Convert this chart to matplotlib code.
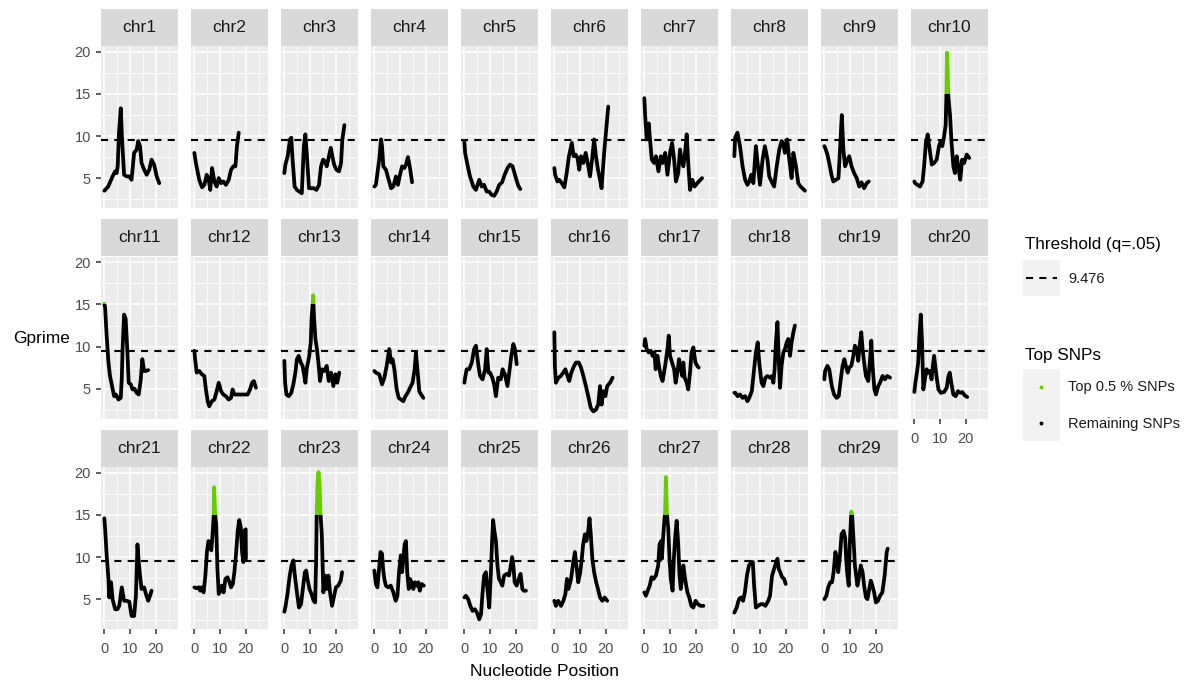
import matplotlib.pyplot as plt
from matplotlib.patches import Rectangle

plt.rcParams['font.family'] = ['Liberation Sans', 'DejaVu Sans']

# Gprime per chromosome (position in Mb)
chr1_pos = [0, 1.5, 3.2, 4.2, 4.8, 5.2, 5.7, 6.4, 6.9, 7.7, 8.7, 9.7, 10.6, 11.6, 12.6, 13.2, 13.9, 14.5, 15.5, 16.5, 17.5, 18.4, 19.4, 20.4, 21.4]
chr1_g = [3.5, 4.0, 5.2, 5.8, 5.6, 6.4, 10.4, 13.3, 9.6, 5.4, 5.2, 5.2, 4.8, 8.0, 8.4, 9.4, 8.8, 6.8, 6.0, 5.4, 6.0, 7.2, 6.6, 5.2, 4.4]
chr2_pos = [0, 0.6, 1.9, 3.0, 3.9, 4.8, 5.6, 6.2, 6.9, 7.8, 8.7, 9.5, 10.4, 11.3, 12.3, 13.4, 14.3, 15.2, 16.0, 16.6, 17.3]
chr2_g = [8.0, 6.8, 4.8, 3.9, 4.2, 5.4, 4.8, 3.6, 6.2, 4.6, 4.0, 5.0, 4.4, 4.6, 4.2, 4.8, 6.0, 6.4, 6.4, 8.8, 10.4]
chr3_pos = [0, 0.4, 1.3, 2.2, 2.7, 3.2, 4.0, 4.9, 5.8, 6.8, 7.6, 8.2, 8.8, 9.6, 10.6, 11.5, 12.5, 13.5, 14.3, 15.1, 15.8, 16.5, 17.1, 18.1, 18.7, 19.4, 20.3, 21.3, 22.1, 22.6, 23.4]
chr3_g = [5.6, 6.6, 7.6, 9.6, 9.8, 7.2, 4.0, 3.6, 3.4, 3.2, 8.8, 10.2, 7.6, 3.8, 3.8, 3.8, 3.6, 4.2, 6.4, 7.2, 7.0, 6.4, 7.2, 8.6, 7.6, 6.6, 6.0, 5.8, 6.8, 9.6, 11.3]
chr4_pos = [0, 0.6, 1.9, 2.6, 3.0, 3.5, 4.5, 5.6, 6.5, 7.4, 8.4, 9.2, 10.0, 10.8, 11.7, 12.3, 13.1, 13.9, 14.7]
chr4_g = [4.0, 4.2, 7.2, 9.6, 8.8, 6.4, 6.0, 4.8, 3.8, 4.0, 5.2, 4.2, 5.4, 6.4, 6.2, 6.6, 7.5, 6.2, 4.5]
chr5_pos = [0, 0.3, 1.2, 2.2, 3.5, 4.5, 5.8, 6.8, 7.7, 8.7, 9.7, 10.6, 11.6, 12.6, 13.6, 14.7, 15.7, 16.8, 17.8, 18.8, 19.9, 21.0, 21.8]
chr5_g = [9.4, 8.0, 6.6, 5.2, 4.0, 3.6, 4.8, 4.0, 4.2, 3.4, 3.4, 3.0, 2.9, 3.4, 4.2, 4.5, 5.4, 6.2, 6.6, 6.4, 5.2, 4.1, 3.7]
chr6_pos = [0, 0.3, 1.2, 1.9, 2.9, 3.9, 4.8, 5.7, 6.8, 7.5, 8.3, 9.0, 9.7, 10.4, 11.3, 12.2, 13.0, 13.9, 14.7, 15.5, 16.2, 17.0, 17.8, 18.4, 19.4, 20.1, 21.0]
chr6_g = [6.2, 5.4, 4.6, 4.8, 4.4, 3.9, 5.6, 7.6, 9.2, 7.6, 7.8, 7.4, 6.0, 7.6, 6.8, 8.0, 6.8, 5.2, 7.2, 9.6, 7.6, 6.0, 4.8, 3.8, 8.0, 10.4, 13.5]
chr7_pos = [0, 0.3, 0.9, 1.7, 2.2, 2.9, 3.8, 4.5, 5.5, 6.4, 7.1, 8.1, 9.0, 10.0, 10.8, 11.6, 12.3, 13.2, 13.9, 14.5, 15.2, 15.8, 16.5, 17.1, 17.8, 18.7, 19.6, 20.6, 22.5]
chr7_g = [14.5, 12.5, 9.6, 11.5, 9.6, 7.2, 6.8, 7.6, 5.8, 7.6, 6.8, 8.0, 5.4, 8.0, 9.2, 7.2, 4.6, 5.6, 8.4, 7.2, 6.4, 7.8, 10.2, 6.8, 3.6, 4.8, 4.0, 4.4, 5.0]
chr8_pos = [0, 0.3, 1.2, 2.2, 3.2, 4.2, 5.1, 5.8, 6.6, 7.4, 8.4, 9.2, 10.0, 11.0, 11.9, 12.9, 13.6, 14.5, 15.5, 16.5, 17.5, 18.4, 19.0, 19.7, 20.6, 21.4, 22.3, 23.0, 24.0, 24.9, 25.8, 27.5]
chr8_g = [7.6, 9.8, 10.4, 8.8, 6.4, 4.8, 4.2, 4.6, 5.4, 4.4, 8.8, 6.4, 4.2, 7.2, 8.8, 7.2, 5.2, 4.6, 4.0, 6.4, 8.4, 9.4, 9.2, 8.0, 9.6, 7.2, 5.0, 8.0, 6.4, 4.4, 4.0, 3.5]
chr9_pos = [0, 0.3, 1.2, 1.9, 2.9, 3.5, 4.5, 5.5, 6.1, 6.8, 7.4, 8.1, 9.0, 9.7, 10.6, 11.6, 12.6, 13.6, 14.5, 15.5, 16.5, 17.3]
chr9_g = [8.8, 8.6, 7.8, 6.8, 5.2, 4.6, 4.8, 5.0, 8.4, 12.5, 8.4, 6.4, 7.2, 7.6, 6.4, 5.6, 5.0, 4.0, 4.5, 3.8, 4.4, 4.6]
chr10_pos = [0, 0.3, 1.2, 2.2, 3.2, 3.8, 4.5, 5.2, 5.8, 6.8, 7.7, 8.7, 9.6, 10.3, 10.9, 11.6, 12.2, 12.5, 12.7, 13.0, 13.2, 13.9, 14.5, 15.2, 15.8, 16.5, 17.1, 17.9, 18.6, 19.4, 20.4, 21.4]
chr10_g = [4.6, 4.4, 4.2, 4.0, 4.6, 6.4, 9.2, 10.2, 8.8, 6.6, 6.8, 7.2, 8.8, 9.4, 8.8, 10.0, 11.3, 15.1, 19.9, 18.0, 14.9, 12.5, 9.2, 6.4, 5.6, 7.6, 6.4, 4.8, 7.2, 6.8, 7.8, 7.4]
chr11_pos = [0, 0.3, 0.9, 1.6, 2.2, 3.0, 3.8, 4.5, 5.5, 6.4, 6.8, 7.1, 7.7, 8.3, 9.0, 9.5, 10.3, 11.0, 11.7, 12.6, 13.4, 14.2, 14.8, 15.5, 16.2, 17.1]
chr11_g = [15.1, 14.6, 11.3, 8.1, 6.5, 5.3, 4.1, 4.3, 3.7, 3.9, 6.3, 9.7, 13.8, 13.3, 9.3, 5.7, 5.5, 4.9, 5.0, 4.5, 4.3, 6.1, 8.5, 7.1, 7.1, 7.2]
chr12_pos = [0, 0.3, 0.9, 1.9, 2.9, 3.9, 4.5, 5.2, 5.8, 6.8, 7.8, 8.7, 9.5, 10.4, 11.3, 12.3, 13.4, 14.3, 14.9, 15.6, 16.5, 17.5, 18.8, 20.8, 21.7, 22.5, 23.2, 24.0]
chr12_g = [9.5, 8.5, 6.9, 7.1, 6.7, 6.5, 4.9, 3.5, 2.9, 3.5, 3.7, 4.7, 5.7, 4.7, 4.3, 4.1, 3.7, 3.9, 4.9, 4.3, 4.3, 4.3, 4.3, 4.3, 4.9, 5.7, 5.9, 5.1]
chr13_pos = [0, 0.3, 0.8, 1.7, 2.7, 3.5, 4.3, 4.9, 5.6, 6.4, 7.1, 7.7, 8.2, 8.7, 9.2, 9.7, 10.3, 10.6, 11.0, 11.2, 11.6, 12.1, 12.7, 13.4, 13.9, 14.7, 15.6, 16.5, 17.3, 18.2, 19.1, 19.9, 20.6, 21.4]
chr13_g = [8.3, 5.7, 4.3, 4.1, 4.5, 5.5, 6.9, 8.5, 8.9, 8.1, 7.7, 6.7, 5.7, 7.3, 8.1, 8.9, 10.5, 13.3, 15.0, 16.1, 13.3, 10.9, 9.7, 7.7, 5.9, 7.3, 7.1, 7.7, 5.9, 6.9, 5.3, 6.7, 5.7, 6.9]
chr14_pos = [0, 0.6, 1.9, 3.0, 3.9, 4.8, 5.8, 6.5, 7.1, 7.8, 8.7, 9.5, 10.4, 11.3, 12.1, 13.0, 13.9, 14.9, 15.7, 16.2, 16.9, 17.5, 18.2, 19.1]
chr14_g = [7.1, 6.9, 6.7, 5.5, 6.3, 7.7, 9.7, 8.1, 8.5, 7.3, 4.9, 3.9, 3.7, 3.5, 4.1, 4.5, 5.1, 5.7, 7.3, 9.3, 6.9, 4.7, 4.3, 3.9]
chr15_pos = [0, 0.3, 0.9, 1.9, 2.9, 3.8, 4.5, 5.5, 6.1, 7.1, 8.1, 8.7, 9.4, 10.0, 10.9, 11.6, 12.3, 13.2, 14.2, 14.9, 15.8, 16.8, 17.5, 18.3, 19.1, 19.7, 20.4]
chr15_g = [5.7, 6.3, 7.3, 7.3, 8.1, 9.7, 10.1, 7.7, 6.5, 6.1, 7.3, 9.7, 6.9, 6.9, 6.3, 5.5, 4.1, 6.3, 6.1, 7.3, 6.7, 5.3, 6.9, 8.9, 10.3, 9.7, 7.9]
chr16_pos = [0, 0.2, 0.6, 1.6, 2.5, 3.5, 4.3, 5.1, 5.8, 6.6, 7.4, 8.4, 9.5, 10.4, 11.3, 12.3, 13.2, 14.2, 15.2, 16.2, 17.1, 17.8, 18.4, 19.1, 19.9, 20.6, 21.7, 22.7]
chr16_g = [11.7, 7.7, 5.7, 6.3, 6.5, 6.9, 7.3, 6.5, 5.9, 6.9, 7.5, 8.1, 8.1, 7.5, 6.5, 5.3, 4.1, 2.7, 2.3, 2.5, 3.1, 5.3, 3.1, 4.7, 4.1, 5.3, 5.7, 6.3]
chr17_pos = [0, 0.3, 0.9, 1.7, 2.5, 3.2, 3.9, 4.4, 5.1, 5.7, 6.4, 7.1, 8.1, 9.0, 9.5, 10.0, 10.8, 11.6, 12.2, 12.9, 13.5, 14.3, 14.8, 15.2, 15.7, 16.5, 17.1, 17.8, 18.4, 19.1, 19.9, 20.6, 21.2]
chr17_g = [10.1, 10.9, 9.7, 9.3, 9.5, 8.9, 9.3, 7.3, 8.9, 7.7, 6.5, 5.9, 7.7, 9.7, 11.3, 8.9, 8.1, 7.3, 5.7, 6.9, 8.5, 7.3, 6.5, 8.1, 6.3, 5.7, 4.9, 6.9, 9.3, 9.9, 8.1, 7.7, 7.5]
chr18_pos = [0, 0.4, 1.3, 2.2, 3.2, 4.2, 5.1, 5.8, 6.8, 7.7, 8.4, 9.1, 9.7, 10.6, 11.3, 12.1, 12.9, 13.9, 14.7, 15.2, 15.7, 16.2, 16.8, 17.3, 17.8, 18.4, 19.1, 19.7, 20.4, 21.0, 21.7, 22.3, 23.0, 23.6]
chr18_g = [4.5, 4.5, 4.1, 4.3, 3.9, 4.1, 3.5, 3.9, 4.7, 7.3, 9.3, 10.5, 8.1, 5.7, 5.3, 6.3, 6.5, 6.3, 6.5, 5.7, 7.3, 10.5, 12.9, 8.5, 5.1, 7.7, 9.3, 9.7, 10.5, 10.9, 8.9, 10.5, 11.7, 12.5]
chr19_pos = [0, 0.3, 1.2, 1.9, 2.9, 3.8, 4.8, 5.6, 6.4, 7.1, 7.8, 8.4, 9.1, 9.7, 10.5, 11.3, 11.9, 12.6, 13.2, 13.9, 14.4, 14.9, 15.5, 16.2, 17.1, 17.8, 18.3, 18.8, 19.5, 20.1, 21.0, 21.7, 22.7, 23.6, 24.5, 25.6]
chr19_g = [6.1, 7.1, 7.7, 7.3, 5.3, 4.3, 3.9, 4.1, 6.1, 7.7, 8.5, 7.7, 6.9, 7.5, 7.7, 8.9, 10.1, 9.7, 8.3, 10.5, 11.7, 9.7, 8.1, 6.5, 5.9, 8.5, 10.7, 7.7, 4.9, 4.3, 5.3, 5.7, 6.5, 6.1, 6.5, 6.3]
chr20_pos = [0, 0.4, 1.0, 1.5, 1.9, 2.5, 3.0, 3.5, 4.1, 4.8, 5.4, 6.1, 6.7, 7.2, 7.7, 8.3, 8.8, 9.4, 10.3, 11.6, 12.6, 13.3, 13.8, 14.5, 15.2, 16.1, 17.0, 17.8, 18.7, 19.6, 20.6]
chr20_g = [4.6, 5.7, 6.9, 8.1, 10.9, 13.8, 10.5, 4.9, 6.1, 7.3, 6.9, 7.1, 6.1, 7.7, 8.9, 7.3, 6.1, 4.9, 4.5, 4.6, 5.1, 6.5, 6.9, 5.5, 4.3, 4.1, 4.7, 4.5, 4.6, 4.2, 4.0]
chr21_pos = [0, 0.3, 0.9, 1.6, 1.9, 2.6, 3.2, 4.2, 5.1, 5.8, 6.8, 7.7, 8.7, 9.7, 10.6, 11.6, 12.3, 12.9, 13.4, 13.9, 14.5, 15.5, 16.2, 17.1, 17.8, 18.4]
chr21_g = [14.6, 13.4, 10.2, 7.4, 5.2, 7.0, 5.0, 3.8, 3.8, 4.2, 6.4, 4.8, 4.8, 4.7, 3.0, 3.0, 5.4, 11.5, 9.4, 7.8, 6.2, 6.4, 5.6, 4.8, 5.4, 6.0]
chr22_pos = [0, 0.8, 1.7, 2.3, 2.8, 3.6, 4.3, 4.9, 5.5, 6.2, 6.6, 7.1, 7.5, 7.7, 8.1, 8.5, 9.0, 9.5, 10.1, 10.7, 11.4, 12.1, 12.9, 13.7, 14.3, 15.0, 15.6, 16.3, 16.9, 17.5, 18.1, 18.6, 19.1, 19.5, 20.0, 20.1]
chr22_g = [6.4, 6.3, 6.4, 6.0, 6.4, 5.8, 7.8, 10.6, 11.9, 11.5, 10.8, 12.7, 14.7, 18.3, 15.1, 13.9, 8.6, 5.6, 6.0, 6.6, 5.8, 7.4, 7.6, 7.0, 6.4, 6.8, 8.2, 10.6, 13.1, 14.4, 13.5, 10.6, 9.4, 13.1, 13.3, 9.8]
chr23_pos = [0, 0.5, 1.3, 2.1, 2.8, 3.5, 4.1, 4.9, 5.7, 6.5, 7.2, 8.0, 8.5, 9.0, 9.8, 10.6, 11.4, 12.0, 12.4, 12.6, 12.9, 13.3, 13.7, 14.1, 14.6, 15.2, 15.9, 16.5, 17.2, 17.8, 18.6, 19.4, 20.1, 21.0, 22.0, 22.5]
chr23_g = [3.5, 4.2, 5.8, 7.8, 9.0, 9.6, 7.8, 5.8, 4.0, 4.4, 6.2, 8.2, 8.4, 7.4, 6.2, 5.6, 4.8, 4.6, 9.8, 15.1, 18.7, 20.1, 18.7, 15.1, 12.7, 5.8, 7.8, 6.2, 7.8, 5.8, 4.2, 5.4, 6.4, 6.6, 7.2, 8.2]
chr24_pos = [0, 0.6, 1.2, 1.9, 2.4, 3.0, 3.4, 3.9, 4.5, 5.4, 6.4, 7.4, 8.3, 9.0, 9.6, 10.3, 10.8, 11.3, 11.8, 12.3, 12.8, 13.4, 13.9, 14.5, 15.2, 15.8, 16.5, 17.1, 17.7, 18.4, 19.3]
chr24_g = [8.4, 6.8, 6.4, 8.8, 10.6, 10.4, 8.6, 7.4, 6.6, 6.4, 6.6, 5.8, 4.8, 5.4, 8.2, 10.2, 8.2, 9.8, 11.5, 11.9, 8.2, 6.2, 7.4, 7.0, 6.2, 7.0, 6.6, 7.0, 6.0, 6.8, 6.6]
chr25_pos = [0, 0.6, 1.5, 2.3, 3.2, 4.1, 4.9, 5.8, 6.5, 7.1, 7.7, 8.4, 9.0, 9.7, 10.3, 10.8, 11.2, 11.7, 12.3, 12.9, 13.5, 14.2, 14.8, 15.5, 16.5, 17.4, 18.1, 18.6, 19.1, 19.6, 20.4, 21.2, 21.9, 22.6, 23.2, 24.0]
chr25_g = [5.2, 5.4, 5.0, 4.2, 3.6, 3.8, 3.4, 2.6, 3.2, 5.8, 7.8, 8.2, 6.2, 4.0, 7.8, 11.9, 14.4, 13.1, 11.9, 9.0, 7.4, 7.0, 6.6, 7.8, 8.0, 7.8, 9.0, 10.0, 9.0, 7.0, 6.6, 7.4, 8.0, 6.2, 6.0, 6.0]
chr26_pos = [0, 0.6, 1.5, 2.6, 3.5, 4.3, 4.9, 5.5, 6.5, 7.2, 8.0, 8.6, 9.3, 10.1, 10.7, 11.2, 11.9, 12.5, 13.2, 13.7, 14.2, 14.8, 15.5, 16.3, 17.0, 17.8, 18.7, 19.6, 20.6]
chr26_g = [4.8, 4.2, 4.8, 4.2, 4.8, 5.6, 7.4, 6.2, 7.4, 9.0, 10.6, 9.0, 7.0, 8.2, 9.8, 11.5, 12.7, 11.9, 13.1, 14.6, 12.7, 9.8, 8.2, 7.0, 6.2, 5.2, 4.8, 5.2, 4.8]
chr27_pos = [0, 0.6, 1.3, 2.1, 2.8, 3.6, 4.5, 5.4, 5.9, 6.5, 6.8, 7.4, 7.9, 8.1, 8.4, 8.8, 9.3, 9.8, 10.3, 11.0, 11.5, 12.0, 12.6, 13.2, 13.7, 14.2, 14.7, 15.2, 15.7, 16.3, 16.8, 17.5, 18.3, 19.1, 20.0, 20.9, 21.9, 23.0]
chr27_g = [5.8, 5.4, 6.0, 6.6, 7.6, 7.4, 7.8, 9.0, 11.5, 11.9, 9.8, 12.7, 14.7, 15.5, 19.5, 15.1, 13.5, 9.8, 7.4, 6.0, 9.8, 12.3, 14.3, 11.5, 7.8, 6.2, 7.4, 9.0, 7.8, 6.6, 5.8, 5.2, 4.2, 4.0, 4.8, 4.4, 4.2, 4.2]
chr28_pos = [0, 0.9, 1.8, 2.6, 3.4, 4.1, 4.9, 5.7, 6.5, 7.2, 7.7, 8.4, 9.3, 10.3, 11.2, 12.1, 13.2, 13.9, 14.7, 15.5, 16.3, 16.8, 17.3, 17.9, 18.6, 19.4, 20.0]
chr28_g = [3.4, 4.0, 5.0, 5.2, 4.8, 5.8, 7.8, 9.0, 9.4, 9.4, 6.6, 4.0, 4.2, 4.4, 4.4, 4.2, 4.8, 5.4, 7.8, 8.6, 9.4, 9.8, 8.6, 8.2, 7.6, 7.4, 6.8]
chr29_pos = [0, 0.8, 1.5, 2.3, 3.0, 3.6, 4.3, 4.9, 5.4, 6.1, 6.7, 7.5, 8.1, 8.5, 9.0, 9.5, 9.9, 10.5, 10.8, 11.4, 11.9, 12.4, 12.9, 13.6, 14.2, 14.9, 15.5, 16.2, 16.8, 17.5, 18.1, 18.7, 19.4, 20.1, 20.9, 21.7, 22.6, 23.5, 24.3, 24.7]
chr29_g = [5.0, 5.4, 6.4, 7.0, 7.0, 8.2, 10.6, 9.8, 8.2, 10.2, 12.7, 13.1, 12.3, 9.8, 7.8, 6.6, 11.5, 15.4, 15.1, 11.9, 9.0, 7.8, 6.6, 7.8, 9.0, 8.2, 6.6, 5.2, 5.0, 6.2, 7.2, 6.6, 5.8, 4.6, 4.8, 5.4, 5.8, 7.8, 10.6, 11.0]

positions = [chr1_pos, chr2_pos, chr3_pos, chr4_pos, chr5_pos, chr6_pos, chr7_pos, chr8_pos, chr9_pos, chr10_pos,
             chr11_pos, chr12_pos, chr13_pos, chr14_pos, chr15_pos, chr16_pos, chr17_pos, chr18_pos, chr19_pos, chr20_pos,
             chr21_pos, chr22_pos, chr23_pos, chr24_pos, chr25_pos, chr26_pos, chr27_pos, chr28_pos, chr29_pos]
gprimes = [chr1_g, chr2_g, chr3_g, chr4_g, chr5_g, chr6_g, chr7_g, chr8_g, chr9_g, chr10_g,
           chr11_g, chr12_g, chr13_g, chr14_g, chr15_g, chr16_g, chr17_g, chr18_g, chr19_g, chr20_g,
           chr21_g, chr22_g, chr23_g, chr24_g, chr25_g, chr26_g, chr27_g, chr28_g, chr29_g]
chrom_names = ["chr%d" % i for i in range(1, 30)]

threshold = 9.476   # q = .05
top_cut = 15.0      # top 0.5 % SNPs are drawn green above this
green = "#66CD00"

W, H = 1187, 681
fig = plt.figure(figsize=(W / 100, H / 100), dpi=100)


def box(left, top, w, h):
    # pixel box (top-left origin) -> figure fraction
    return [left / W, 1 - (top + h) / H, w / W, h / H]


col_left = [100.5 + 90 * i for i in range(10)]
row_top = [46, 256.5, 467]
pw, ph, strip_h = 77.5, 162, 37
lw_data = 2.7

for k, name in enumerate(chrom_names):
    r, c = divmod(k, 10)
    ax = fig.add_axes(box(col_left[c], row_top[r], pw, ph))
    ax.set_facecolor("#EBEBEB")
    ax.set_xlim(-1.5, 28.7)
    ax.set_ylim(1.45, 20.7)
    ax.set_xticks([0, 10, 20])
    ax.set_xticks([5, 15, 25], minor=True)
    ax.set_yticks([5, 10, 15, 20])
    ax.set_yticks([2.5, 7.5, 12.5, 17.5], minor=True)
    ax.grid(which="major", color="white", lw=1.1)
    ax.grid(which="minor", color="white", lw=0.55)
    ax.set_axisbelow(True)
    for s in ax.spines.values():
        s.set_visible(False)
    ax.tick_params(which="minor", length=0)

    show_x = r == 2 or (r == 1 and c == 9)
    show_y = c == 0
    ax.tick_params(axis="x", which="major", length=3.5 if show_x else 0, width=1.1,
                   color="#333333", pad=6, labelsize=10.5, labelcolor="#4D4D4D",
                   labelbottom=show_x)
    ax.tick_params(axis="y", which="major", length=3.3 if show_y else 0, width=1.1,
                   color="#333333", pad=3.5, labelsize=10.5, labelcolor="#4D4D4D",
                   labelleft=show_y)

    ax.axhline(threshold, color="black", lw=1.5, dashes=(3.4, 3), zorder=2)

    x, y = positions[k], gprimes[k]
    low = Rectangle((-10, -10), 50, 10 + top_cut, transform=ax.transData)
    high = Rectangle((-10, top_cut), 50, 30, transform=ax.transData)
    ln, = ax.plot(x, y, color="black", lw=lw_data, solid_joinstyle="round",
                  solid_capstyle="round", zorder=3)
    ln.set_clip_path(low)
    ln2, = ax.plot(x, y, color=green, lw=lw_data, solid_joinstyle="round",
                   solid_capstyle="round", zorder=3)
    ln2.set_clip_path(high)

    # facet strip
    sax = fig.add_axes(box(col_left[c], row_top[r] - strip_h, pw, strip_h))
    sax.set_facecolor("#D9D9D9")
    sax.set_xticks([])
    sax.set_yticks([])
    for s in sax.spines.values():
        s.set_visible(False)
    sax.text(0.5, 0.5, name, ha="center", va="center", fontsize=12.5,
             color="#1A1A1A", transform=sax.transAxes)

fig.text(13 / W, 1 - 338 / H, "Gprime", ha="left", va="center", fontsize=12.5)
fig.text(544 / W, 1 - 672 / H, "Nucleotide Position", ha="center", va="center", fontsize=12.5)


# legend, drawn by hand like ggplot's guide boxes
def key_axes(top):
    kax = fig.add_axes(box(1022.5, top, 37, 36))
    kax.set_facecolor("#F2F2F2")
    kax.set_xlim(0, 1)
    kax.set_ylim(0, 1)
    kax.set_xticks([])
    kax.set_yticks([])
    for s in kax.spines.values():
        s.set_visible(False)
    return kax


fig.text(1025 / W, 1 - 245 / H, "Threshold (q=.05)", ha="left", va="center", fontsize=12.3)
k1 = key_axes(260)
k1.plot([0.1, 0.92], [0.5, 0.5], color="black", lw=1.5, dashes=(3.4, 3))
fig.text(1068 / W, 1 - 279 / H, "9.476", ha="left", va="center", fontsize=10.5, color="#1A1A1A")

fig.text(1025 / W, 1 - 355 / H, "Top SNPs", ha="left", va="center", fontsize=12.3)
k2 = key_axes(369)
k2.plot([0.5], [0.5], "o", ms=1.8, color=green)
k3 = key_axes(405)
k3.plot([0.5], [0.5], "o", ms=1.8, color="black")
fig.text(1068 / W, 1 - 387 / H, "Top 0.5 % SNPs", ha="left", va="center", fontsize=10.5, color="#1A1A1A")
fig.text(1068 / W, 1 - 424 / H, "Remaining SNPs", ha="left", va="center", fontsize=10.5, color="#1A1A1A")

fig.savefig("out.png", dpi=100)
